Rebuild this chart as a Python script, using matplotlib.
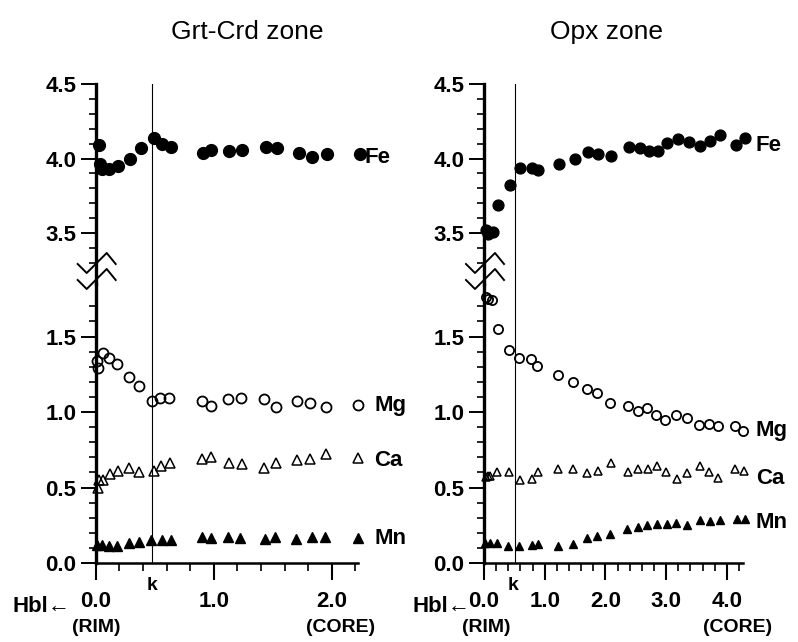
import matplotlib
matplotlib.use("Agg")
import matplotlib.pyplot as plt
from matplotlib.lines import Line2D

plt.rcParams["font.family"] = ["Liberation Sans", "DejaVu Sans"]
plt.rcParams["font.weight"] = "bold"

# Grt-Crd zone (left panel)
gc_fe_x = [0.03, 0.04, 0.05, 0.115, 0.19, 0.29, 0.38, 0.49, 0.56, 0.635, 0.91, 0.98,
           1.13, 1.24, 1.44, 1.54, 1.72, 1.83, 1.96, 2.24]
gc_fe = [4.09, 3.96, 3.93, 3.93, 3.95, 4.00, 4.07, 4.14, 4.10, 4.08, 4.04, 4.06,
         4.05, 4.06, 4.08, 4.07, 4.04, 4.01, 4.03, 4.03]
gc_mg_x = [0.02, 0.01, 0.06, 0.115, 0.18, 0.28, 0.37, 0.48, 0.545, 0.625, 0.90, 0.975,
           1.12, 1.23, 1.43, 1.53, 1.71, 1.815, 1.95, 2.225]
gc_mg = [1.29, 1.34, 1.39, 1.355, 1.315, 1.235, 1.17, 1.075, 1.095, 1.09, 1.075, 1.04,
         1.085, 1.09, 1.085, 1.035, 1.07, 1.06, 1.03, 1.045]
gc_ca_x = [0.02, 0.03, 0.065, 0.12, 0.19, 0.28, 0.37, 0.49, 0.55, 0.63, 0.90, 0.975,
           1.13, 1.24, 1.43, 1.53, 1.71, 1.815, 1.95, 2.225]
gc_ca = [0.50, 0.55, 0.55, 0.59, 0.61, 0.63, 0.60, 0.61, 0.64, 0.66, 0.69, 0.70,
         0.665, 0.655, 0.63, 0.665, 0.68, 0.69, 0.72, 0.695]
gc_mn_x = [0.01, 0.05, 0.115, 0.18, 0.28, 0.37, 0.47, 0.56, 0.635, 0.90, 0.975, 1.12,
           1.22, 1.435, 1.52, 1.70, 1.83, 1.94, 2.225]
gc_mn = [0.12, 0.12, 0.115, 0.11, 0.13, 0.14, 0.155, 0.155, 0.15, 0.17, 0.165, 0.17,
         0.165, 0.16, 0.175, 0.16, 0.175, 0.175, 0.165]

# Opx zone (right panel)
ox_fe_x = [0.04, 0.07, 0.155, 0.236, 0.43, 0.59, 0.785, 0.895, 1.24, 1.50, 1.72, 1.88,
           2.10, 2.39, 2.57, 2.72, 2.87, 3.01, 3.20, 3.37, 3.56, 3.73, 3.88, 4.15, 4.30]
ox_fe = [3.52, 3.49, 3.51, 3.69, 3.82, 3.935, 3.935, 3.92, 3.96, 4.00, 4.045, 4.03,
         4.02, 4.08, 4.07, 4.05, 4.05, 4.105, 4.13, 4.11, 4.085, 4.115, 4.16, 4.09, 4.135]
ox_mg_x = [0.03, 0.07, 0.14, 0.225, 0.42, 0.58, 0.775, 0.88, 1.225, 1.47, 1.69, 1.86,
           2.08, 2.37, 2.54, 2.69, 2.83, 2.98, 3.17, 3.35, 3.55, 3.71, 3.86, 4.135, 4.27]
ox_mg = [1.76, 1.75, 1.74, 1.55, 1.41, 1.36, 1.35, 1.305, 1.245, 1.20, 1.15, 1.125,
         1.06, 1.04, 1.005, 1.025, 0.98, 0.95, 0.98, 0.96, 0.915, 0.92, 0.91, 0.905, 0.875]
ox_ca_x = [0.03, 0.06, 0.10, 0.22, 0.42, 0.59, 0.785, 0.895, 1.225, 1.47, 1.69, 1.87,
           2.09, 2.38, 2.54, 2.70, 2.85, 3.00, 3.18, 3.35, 3.56, 3.71, 3.86, 4.13, 4.28]
ox_ca = [0.57, 0.575, 0.575, 0.60, 0.605, 0.55, 0.555, 0.60, 0.62, 0.62, 0.595, 0.61,
         0.665, 0.605, 0.625, 0.62, 0.64, 0.605, 0.555, 0.595, 0.64, 0.605, 0.565, 0.625, 0.61]
ox_mn_x = [0.016, 0.10, 0.22, 0.39, 0.58, 0.785, 0.885, 1.225, 1.46, 1.69, 1.86, 2.07,
           2.35, 2.53, 2.69, 2.85, 3.01, 3.17, 3.34, 3.56, 3.72, 3.89, 4.16, 4.30]
ox_mn = [0.13, 0.135, 0.13, 0.115, 0.115, 0.12, 0.125, 0.11, 0.125, 0.165, 0.18, 0.195,
         0.225, 0.24, 0.25, 0.26, 0.26, 0.265, 0.25, 0.285, 0.28, 0.285, 0.29, 0.29]

W, H = 798, 642
fig = plt.figure(figsize=(W / 100, H / 100), dpi=100)

FS = 16
Y0, YBRK, YTOP = 563, 284, 84   # pixel rows: zero line, break, 4.5


def draw_panel(x0_px, px_per_unit, xmax, k, series, ms, labels, xticks):
    width = xmax * px_per_unit / W
    left = x0_px / W
    lo = fig.add_axes([left, (H - Y0) / H, width, (Y0 - YBRK) / H])
    up = fig.add_axes([left, (H - YBRK) / H, width, (YBRK - YTOP) / H])

    lo.set_ylim(0, (Y0 - YBRK) / 151)
    up.set_ylim(4.5 - (YBRK - YTOP) / 149, 4.5)
    for ax in (lo, up):
        ax.set_xlim(0, xmax)
        ax.spines["right"].set_visible(False)
        ax.spines["left"].set_linewidth(2.4)
        ax.tick_params(axis="y", which="major", length=11, width=1.4, labelsize=FS, pad=3)
        ax.tick_params(axis="y", which="minor", length=5, width=1.2)
        ax.axvline(k, color="black", lw=0.8, zorder=1)
        ax.patch.set_alpha(0)
    up.spines["top"].set_visible(False)
    up.spines["bottom"].set_visible(False)
    up.tick_params(axis="x", which="both", bottom=False, labelbottom=False)
    lo.spines["top"].set_visible(False)
    lo.spines["bottom"].set_linewidth(1.8)

    lo.set_yticks([0.0, 0.5, 1.0, 1.5])
    lo.set_yticklabels(["0.0", "0.5", "1.0", "1.5"])
    lo.set_yticks([i / 10 for i in range(0, 18)], minor=True)
    up.set_yticks([3.5, 4.0, 4.5])
    up.set_yticklabels(["3.5", "4.0", "4.5"])
    up.set_yticks([3.3 + i / 10 for i in range(0, 13)], minor=True)

    lo.set_xticks(xticks)
    lo.set_xticklabels([f"{t:.1f}" for t in xticks])
    lo.set_xticks([i * 0.2 for i in range(int(xmax / 0.2 + 1e-6) + 1)], minor=True)
    lo.tick_params(axis="x", which="major", length=12, width=1.5, labelsize=FS, pad=8)
    lo.tick_params(axis="x", which="minor", length=6, width=1.2)

    (fx, fy), (mx, my), (cx, cy), (nx, ny) = series
    up.plot(fx, fy, "o", color="black", ms=ms[0], clip_on=False, zorder=3)
    lo.plot(mx, my, "o", mfc="none", mec="black", mew=1.3, ms=ms[1],
            clip_on=False, zorder=3)
    lo.plot(cx, cy, "^", mfc="none", mec="black", mew=1.1, ms=ms[2],
            clip_on=False, zorder=3)
    lo.plot(nx, ny, "^", color="black", ms=ms[3], clip_on=False, zorder=3)

    for name, (lx, ly) in labels.items():
        ax = up if name == "Fe" else lo
        ax.text(lx, ly, name, fontsize=FS, ha="left", va="center", clip_on=False)

    # axis break marks
    sx = x0_px + 1
    for base in (264, 280):
        xs = [sx - 19, sx - 10, sx + 10, sx + 19]
        ys = [base, base + 9, base - 11, base]
        fig.add_artist(Line2D([v / W for v in xs], [1 - v / H for v in ys],
                              color="black", lw=1.4))
    return lo, up


lo_l, up_l = draw_panel(
    95.7, 118, 2.22, 0.48,
    [(gc_fe_x, gc_fe), (gc_mg_x, gc_mg), (gc_ca_x, gc_ca), (gc_mn_x, gc_mn)],
    [8.5, 7.2, 7.0, 7.0],
    {"Fe": (2.28, 4.01), "Mg": (2.36, 1.04), "Ca": (2.36, 0.68), "Mn": (2.36, 0.16)},
    [0.0, 1.0, 2.0])

lo_r, up_r = draw_panel(
    484, 60.7, 4.26, 0.51,
    [(ox_fe_x, ox_fe), (ox_mg_x, ox_mg), (ox_ca_x, ox_ca), (ox_mn_x, ox_mn)],
    [7.8, 6.6, 6.3, 6.3],
    {"Fe": (4.48, 4.09), "Mg": (4.48, 0.88), "Ca": (4.48, 0.56), "Mn": (4.48, 0.27)},
    [0.0, 1.0, 2.0, 3.0, 4.0])

# titles and bottom annotations
fig.text(247 / W, 1 - 32 / H, "Grt-Crd zone", fontsize=19, fontweight="normal",
         ha="center", va="center")
fig.text(606 / W, 1 - 32 / H, "Opx zone", fontsize=19, fontweight="normal",
         ha="center", va="center")

fig.text(12 / W, 1 - 606 / H, "Hbl\u2190", fontsize=FS, ha="left", va="center")
fig.text(412 / W, 1 - 606 / H, "Hbl\u2190", fontsize=FS, ha="left", va="center")
fig.text(152 / W, 1 - 586 / H, "k", fontsize=14, ha="center", va="center")
fig.text(513 / W, 1 - 586 / H, "k", fontsize=14, ha="center", va="center")
fig.text(96 / W, 1 - 628 / H, "(RIM)", fontsize=14, ha="center", va="center")
fig.text(486 / W, 1 - 628 / H, "(RIM)", fontsize=14, ha="center", va="center")
fig.text(341 / W, 1 - 628 / H, "(CORE)", fontsize=14, ha="center", va="center")
fig.text(738 / W, 1 - 628 / H, "(CORE)", fontsize=14, ha="center", va="center")

fig.savefig("out.png", dpi=100)
